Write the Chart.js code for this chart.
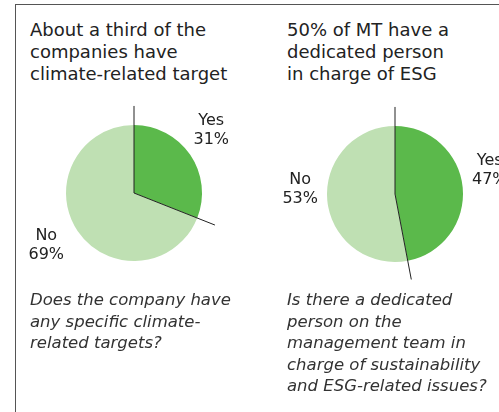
<!DOCTYPE html>
<html>
<head>
<meta charset="utf-8">
<script src="https://cdn.jsdelivr.net/npm/chart.js@4/dist/chart.umd.min.js"></script>
<style>
  html, body { margin: 0; padding: 0; background: #fff; }
  body { width: 499px; height: 412px; position: relative; overflow: hidden; font-family: "DejaVu Sans", sans-serif; }
  .frame { position: absolute; left: 15px; top: 4px; width: 500px; height: 420px; border-top: 1.5px solid #555; border-left: 1.5px solid #555; }
  .title { position: absolute; top: 19px; font-size: 18px; line-height: 22px; color: #222; }
  .question { position: absolute; top: 289px; font-size: 16.5px; line-height: 21.5px; font-style: italic; color: #333; }
  canvas { position: absolute; }
</style>
</head>
<body>
<div class="frame"></div>
<div class="title" style="left:30px">About a third of the<br>companies have<br>climate-related target</div>
<div class="title" style="left:287px">50% of MT have a<br>dedicated person<br>in charge of ESG</div>
<canvas id="chartTarget" style="left:19px;top:93px" width="230" height="200"></canvas>
<canvas id="chartEsg" style="left:280px;top:94px" width="230" height="200"></canvas>
<div class="question" style="left:30px">Does the company have<br>any specific climate-<br>related targets?</div>
<div class="question" style="left:287px">Is there a dedicated<br>person on the<br>management team in<br>charge of sustainability<br>and ESG-related issues?</div>
<script>
(() => {
    // data
    const categories = ['Yes', 'No'];
    const targetShares = [31, 69];
    const esgShares = [47, 53];

    const sliceColors = ['#5bb94b', '#bfe0b3'];

    // leader lines + labels
    const pieNotes = {
        id: 'pieNotes',
        afterDatasetsDraw(chart, args, opts) {
            const ctx = chart.ctx;
            const arcs = chart.getDatasetMeta(0).data;
            const values = chart.data.datasets[0].data;
            ctx.save();
            ctx.strokeStyle = '#222';
            ctx.lineWidth = 1;
            arcs.forEach(arc => {
                const len = arc.outerRadius * 1.28;
                ctx.beginPath();
                ctx.moveTo(arc.x, arc.y);
                ctx.lineTo(arc.x + Math.cos(arc.startAngle) * len, arc.y + Math.sin(arc.startAngle) * len);
                ctx.stroke();
            });
            ctx.fillStyle = '#222';
            ctx.font = '16px "DejaVu Sans", sans-serif';
            ctx.textAlign = 'center';
            ctx.textBaseline = 'middle';
            arcs.forEach((arc, i) => {
                const mid = (arc.startAngle + arc.endAngle) / 2;
                const d = arc.outerRadius * 1.4;
                const nudge = opts.nudges[i];
                const x = arc.x + Math.cos(mid) * d + nudge[0];
                const y = arc.y + Math.sin(mid) * d + nudge[1];
                ctx.fillText(chart.data.labels[i], x, y - 9.5);
                ctx.fillText(values[i] + '%', x, y + 9.5);
            });
            ctx.restore();
        }
    };

    function makePie(id, values, nudges) {
        new Chart(document.getElementById(id), {
            type: 'pie',
            data: {
                labels: categories,
                datasets: [{
                    data: values,
                    backgroundColor: sliceColors,
                    borderWidth: 0
                }]
            },
            options: {
                responsive: false,
                animation: false,
                radius: 68,
                layout: { padding: 0 },
                plugins: {
                    legend: { display: false },
                    tooltip: { enabled: false },
                    pieNotes: { nudges }
                }
            },
            plugins: [pieNotes]
        });
    }

    makePie('chartTarget', targetShares, [[-1.5, -9], [-9, -1]]);
    makePie('chartEsg', esgShares, [[0, -15], [0, -14]]);
})();
</script>
</body>
</html>
